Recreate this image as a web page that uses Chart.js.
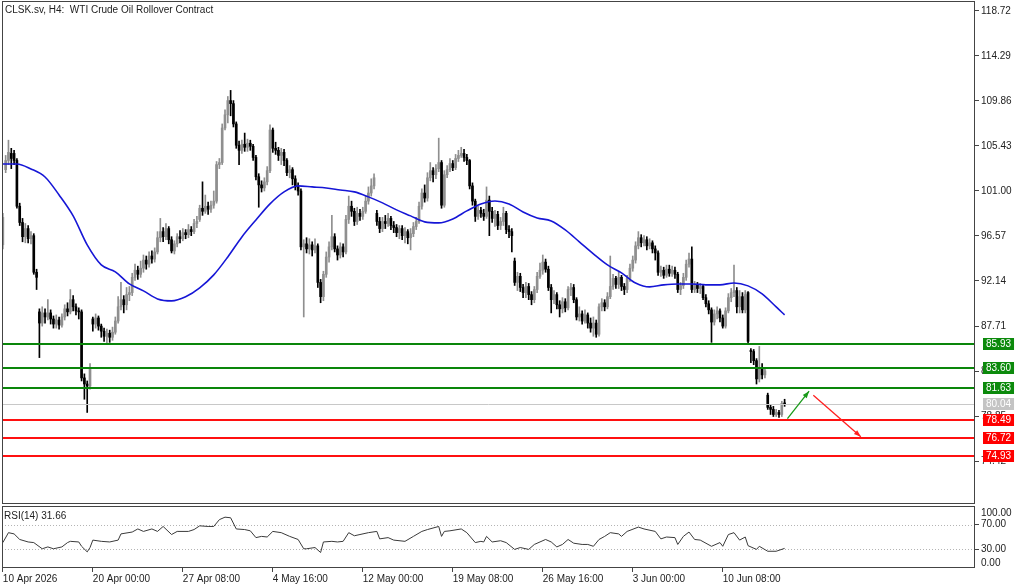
<!DOCTYPE html>
<html>
<head>
<meta charset="utf-8">
<script src="https://cdn.jsdelivr.net/npm/chart.js@4.4.1/dist/chart.umd.min.js"></script>
<style>
  html, body { margin: 0; padding: 0; background: #fff; }
  #wrap { position: relative; width: 1024px; height: 587px; overflow: hidden; }
  #mainBox { position: absolute; left: 0; top: 0; width: 1024px; height: 506px; }
  #rsiBox { position: absolute; left: 0; top: 505px; width: 1024px; height: 82px; }
</style>
</head>
<body>
<div id="wrap">
  <div id="mainBox"><canvas id="main"></canvas></div>
  <div id="rsiBox"><canvas id="rsi"></canvas></div>
</div>
<script>
// H4 candles, bar index 0 = 10 Apr 2026 16:00
const opens = [
  95.7,103.1,104.0,104.7,104.7,104.0,99.5,97.9,96.5,97.3,
  96.3,96.6,93.0,89.1,88.0,89.0,88.6,89.0,88.4,87.9,
  88.3,87.8,88.6,89.4,89.1,90.3,89.6,89.2,89.1,82.6,
  82.0,81.8,88.4,87.9,88.5,87.7,87.2,86.7,87.0,86.6,
  87.1,88.2,89.6,90.3,89.8,90.8,91.0,92.5,93.2,92.8,
  93.4,94.2,93.8,94.6,94.3,95.0,96.4,97.0,96.5,97.3,
  96.2,95.1,95.8,96.5,96.3,96.9,96.7,97.2,97.0,97.8,
  98.2,99.3,99.0,99.5,99.2,99.6,100.0,103.6,103.8,107.2,
  108.5,109.9,109.6,107.6,105.5,105.0,105.6,105.3,105.7,105.4,
  104.3,102.4,101.6,101.3,101.9,103.0,107.0,105.2,105.0,104.5,
  104.8,104.0,102.8,103.1,102.2,101.4,101.0,95.5,95.8,95.3,
  95.7,95.2,95.6,92.0,90.6,92.8,94.5,95.5,96.5,95.3,
  94.7,95.5,95.0,98.2,99.5,99.0,98.0,98.8,98.5,99.0,
  100.0,100.8,101.5,98.8,98.0,97.3,98.0,97.8,98.3,97.6,
  97.4,96.9,97.3,96.6,97.0,96.4,96.8,97.5,98.0,99.5,
  100.8,100.3,102.3,103.0,102.6,103.2,103.8,99.6,102.6,103.1,
  103.7,103.3,104.2,104.5,104.7,104.3,104.0,101.5,100.0,98.5,
  99.1,98.8,98.5,100.1,99.0,98.3,98.7,97.6,98.0,98.8,
  97.2,97.0,94.1,92.0,92.6,91.5,91.0,91.6,90.8,90.3,
  91.3,92.6,93.2,94.0,93.3,91.5,90.3,90.8,89.8,89.4,
  90.1,89.5,91.3,91.5,90.3,88.6,88.9,88.2,88.8,88.0,
  87.5,88.0,86.9,89.6,90.0,89.6,90.6,91.6,92.4,91.8,
  92.5,91.6,91.3,92.4,93.4,94.2,95.6,96.4,95.9,96.2,
  95.6,95.9,95.3,94.9,93.0,93.2,92.7,93.3,92.9,93.2,
  92.8,91.3,91.7,92.5,93.8,94.3,91.3,91.8,91.4,91.6,
  90.5,89.9,89.3,88.1,88.9,89.2,88.5,87.7,89.2,90.5,
  91.0,91.2,89.6,90.6,89.3,91.0,85.3,85.2,84.3,82.5,
  83.6,82.9,80.9,79.7,79.5,79.0,79.2,79.0,80.1
];
const closes = [
  98.4,104.0,104.8,104.2,104.0,99.5,97.9,96.5,97.3,96.3,
  96.6,93.0,92.5,88.0,89.0,88.6,89.0,88.4,87.9,88.3,
  87.8,88.6,89.4,89.1,90.3,89.6,89.2,89.1,82.6,82.0,
  81.8,83.6,87.9,88.5,87.7,87.2,86.7,87.0,86.6,87.1,
  88.2,89.6,90.3,89.8,90.8,91.0,92.5,93.2,92.8,93.4,
  94.2,93.8,94.6,94.3,95.0,96.4,97.0,96.5,97.3,96.2,
  95.1,95.8,96.5,96.3,96.9,96.7,97.2,97.0,97.8,98.0,
  99.3,99.0,99.5,99.2,99.6,100.0,103.6,103.8,107.2,108.5,
  109.9,109.6,107.6,105.5,105.0,105.6,105.3,105.7,105.4,104.3,
  102.4,101.6,101.3,101.9,103.0,107.0,105.2,105.0,104.5,104.8,
  104.0,102.8,103.1,102.2,101.4,101.0,95.5,95.8,95.3,95.7,
  95.2,95.6,92.0,90.6,92.8,94.5,95.5,96.5,95.3,94.7,
  95.5,95.0,98.2,99.5,99.0,98.0,98.8,98.5,99.0,100.0,
  100.8,101.5,102.3,98.0,97.3,98.0,97.8,98.3,97.6,97.4,
  96.9,97.3,96.6,97.0,96.4,96.8,97.5,98.0,99.5,100.8,
  100.3,102.3,103.0,102.6,103.2,103.8,99.6,102.6,103.1,103.7,
  103.3,104.2,104.5,104.7,104.3,104.0,101.5,100.0,98.5,99.1,
  98.8,98.5,100.1,99.0,98.3,98.7,97.6,98.0,98.8,97.2,
  97.0,96.6,92.0,92.6,91.5,91.0,91.6,90.8,90.3,91.3,
  92.6,93.2,94.0,93.3,91.5,90.3,90.8,89.8,89.4,90.1,
  89.5,91.3,91.5,90.3,88.6,88.9,88.2,88.8,88.0,87.5,
  88.0,86.9,89.6,90.0,89.6,90.6,91.6,92.4,91.8,92.5,
  91.6,91.3,92.4,93.4,94.2,95.6,96.4,95.9,96.2,95.6,
  95.9,95.3,94.9,93.0,93.2,92.7,93.3,92.9,93.2,92.8,
  91.3,91.7,92.5,93.8,94.3,91.3,91.8,91.4,91.6,90.5,
  89.9,89.3,88.1,88.9,89.2,88.5,87.7,89.2,90.5,91.0,
  91.2,89.6,90.6,89.3,90.8,86.2,85.2,84.3,82.5,83.6,
  82.9,83.3,79.7,79.5,79.0,79.2,79.0,80.1,80.04
];
const highs = [
  98.8,104.5,106.0,105.2,105.0,104.2,99.8,98.3,97.8,97.6,
  97.0,96.8,93.3,89.4,89.6,89.4,90.3,89.3,88.7,88.8,
  88.6,88.9,89.8,90.0,91.3,90.7,89.9,89.5,89.3,83.0,
  82.3,84.0,88.6,88.9,88.7,87.9,87.5,87.4,87.3,87.6,
  88.6,90.6,92.0,90.7,91.5,91.6,92.9,93.8,93.6,94.1,
  94.7,94.6,95.0,95.1,95.4,97.0,98.3,97.4,97.8,97.5,
  96.5,96.1,96.8,97.1,97.3,97.2,97.7,97.5,98.2,98.5,
  99.6,101.9,100.6,99.9,100.0,101.0,103.9,104.2,107.6,109.0,
  110.3,110.9,109.9,107.8,105.9,106.0,106.7,106.1,106.0,105.6,
  104.5,102.7,102.0,102.3,103.4,107.5,107.2,105.8,105.3,105.2,
  105.1,104.2,103.5,103.3,102.5,101.8,101.2,96.2,96.4,96.3,
  96.0,96.3,95.8,92.3,93.1,95.0,96.0,98.6,96.8,95.6,
  95.9,95.8,98.6,100.5,100.0,99.3,99.4,99.2,99.4,100.5,
  101.4,102.2,102.7,99.1,98.4,98.4,98.6,98.8,98.5,98.0,
  97.7,97.6,97.6,97.4,97.2,97.3,97.9,98.4,99.9,101.2,
  101.6,102.8,103.8,103.3,103.6,106.2,104.0,103.0,103.5,104.2,
  104.0,104.6,105.0,105.3,105.1,104.6,104.1,101.8,100.2,99.5,
  99.4,99.2,101.4,100.5,99.4,99.1,99.0,98.4,99.4,99.0,
  97.6,97.3,94.4,93.0,92.9,91.8,92.0,91.9,91.1,91.6,
  93.0,93.9,94.7,94.3,93.6,91.8,91.2,91.0,90.2,90.5,
  90.4,91.6,91.9,91.8,90.5,89.6,89.2,89.3,89.0,88.5,
  88.6,88.3,89.9,90.4,90.3,91.0,94.6,92.8,92.6,93.0,
  92.7,91.9,92.7,93.8,94.6,96.0,97.0,96.7,96.6,96.5,
  96.3,96.1,95.6,95.1,93.6,93.5,93.7,93.7,93.6,93.5,
  93.0,92.0,92.9,94.2,94.9,95.5,92.1,92.0,91.9,91.8,
  90.8,90.2,89.5,89.3,89.6,89.4,88.8,89.5,90.9,91.4,
  93.7,91.5,91.2,91.0,91.2,91.1,85.5,85.4,84.5,85.7,
  84.0,83.5,81.1,80.0,79.8,79.5,79.4,80.3,80.5
];
const lows = [
  95.3,102.8,103.6,103.2,103.6,99.3,97.6,96.0,95.9,95.9,
  95.8,92.8,91.3,84.6,87.7,88.0,88.3,87.9,87.5,87.5,
  87.4,87.6,88.3,88.7,88.9,89.2,88.8,88.4,82.3,80.5,
  79.2,81.5,87.2,87.5,87.3,86.6,86.2,86.0,86.1,86.3,
  86.9,88.0,89.3,89.0,89.3,90.2,90.7,92.2,92.3,92.5,
  93.0,93.3,93.5,93.9,94.0,94.8,96.0,96.0,96.2,95.8,
  94.9,94.8,95.5,95.9,96.1,96.3,96.4,96.6,96.8,97.4,
  98.0,98.6,98.8,98.7,98.9,99.3,99.8,103.2,103.6,107.0,
  107.7,108.4,107.3,105.2,103.6,104.7,104.9,104.9,105.0,104.0,
  102.1,99.4,100.9,101.0,101.6,102.8,104.8,104.6,104.0,103.6,
  103.5,102.5,102.3,101.6,101.1,100.6,95.2,88.6,94.9,94.8,
  94.6,94.9,91.5,90.0,90.2,92.5,94.0,95.2,95.0,94.2,
  94.4,94.5,94.8,97.8,98.5,97.6,97.7,98.1,98.2,98.8,
  99.7,100.5,101.2,97.6,96.9,97.0,97.3,97.5,97.2,96.9,
  96.5,96.3,96.2,95.9,95.8,95.2,96.5,97.2,97.8,99.2,
  99.9,100.0,102.0,101.9,102.2,102.9,99.3,99.4,102.3,102.9,
  103.0,103.1,103.9,104.3,103.9,103.6,101.2,99.6,98.0,98.2,
  98.4,98.1,98.3,96.6,97.9,97.5,97.2,97.2,97.6,96.8,
  96.4,95.0,91.7,91.2,91.1,90.5,90.5,90.3,89.8,90.0,
  91.0,92.4,92.8,93.0,91.2,89.0,89.9,89.4,88.6,89.0,
  89.1,89.3,90.7,90.0,88.3,88.2,87.9,88.0,87.5,87.1,
  86.7,86.6,86.7,89.2,89.2,89.4,90.4,91.3,91.4,91.4,
  91.2,90.8,91.0,92.1,93.1,93.9,95.3,95.5,95.6,95.2,
  95.3,94.9,94.2,92.7,92.6,92.4,92.5,92.6,92.6,92.4,
  91.0,90.8,91.4,92.2,93.5,91.0,91.0,91.0,90.9,90.3,
  89.6,88.9,86.1,87.8,88.4,88.1,87.5,87.5,89.0,90.1,
  90.6,89.0,89.0,89.0,89.0,86.0,84.1,83.9,82.0,82.2,
  82.5,82.6,79.5,79.0,78.8,78.8,78.7,78.8,79.8
];

// moving average at these bar indices
const maIdx = [0,5,10,15,20,25,30,35,40,45,50,55,60,65,70,75,80,85,90,95,
  100,105,110,115,120,125,130,135,140,145,150,155,160,165,170,175,180,185,190,195,
  200,205,210,215,220,225,230,235,240,245,250,255,260,265,270,275,278];
const maVal = [103.66,103.66,103.17,102.38,100.61,98.55,95.69,93.72,93.04,91.85,
  91.17,90.38,90.18,90.58,91.46,92.74,94.51,96.48,98.15,99.73,
  100.91,101.50,101.40,101.30,101.10,100.91,100.42,99.83,99.14,98.55,
  97.96,97.86,98.25,99.04,99.73,100.02,99.73,98.94,98.35,98.05,
  97.17,95.99,94.81,93.72,92.94,91.95,91.56,91.76,91.85,91.85,
  91.76,91.76,91.95,91.66,90.87,89.59,88.80];

// RSI(14)
const rsiIdx = [0,2,4,6,9,11,14,16,18,21,23,24,27,28,30,31,32,35,38,41,
  42,46,48,50,53,55,57,60,62,66,68,70,73,75,77,79,81,83,86,88,
  90,92,94,96,99,102,105,107,108,111,113,114,117,119,121,123,125,127,130,133,
  134,137,139,143,146,149,151,155,156,157,159,163,165,168,170,171,172,174,177,179,
  182,184,187,189,193,195,197,199,201,203,206,208,210,212,214,216,219,220,222,226,
  228,232,234,236,239,240,242,244,246,248,252,255,256,258,260,262,264,265,268,269,
  272,275,278];
const rsiVal = [41,57,55,46,42,41,31,34,31,34,41,43,42,35,26,33,45,43,42,45,
  55,58,63,59,63,59,67,54,59,59,62,68,67,67,78,82,81,63,62,60,
  49,51,50,59,57,51,46,31,31,33,25,42,43,42,43,57,52,54,57,59,
  47,49,45,43,51,59,62,67,51,59,60,63,57,41,43,42,51,42,44,41,
  30,33,30,38,46,42,34,38,46,40,38,38,35,46,51,57,55,51,59,66,
  63,59,47,50,49,38,51,58,46,45,35,41,35,54,57,45,50,36,30,35,
  27,27,31.66];

const priceTicks = [118.72,114.29,109.86,105.43,101.00,96.57,92.14,87.71,83.28,78.85,74.42];
const timeIdx = [0,32,64,96,128,160,192,224,256];
const timeLabels = ['10 Apr 2026','20 Apr 00:00','27 Apr 08:00','4 May 16:00','12 May 00:00',
  '19 May 08:00','26 May 16:00','3 Jun 00:00','10 Jun 08:00'];
const resistance = [85.93, 83.60, 81.63];
const support = [78.49, 76.72, 74.93];
const rsiLevels = [70, 30];
// hand drawn arrows: [bar index, price] start and end
const arrowUp = [[279.0, 78.6], [286.7, 81.3]];
const arrowDown = [[288.2, 80.9], [305.1, 76.8]];

const BULL = '#8f8f8f', BEAR = '#000000';
const GREEN = '#0a860a', RED = '#ff1010';
const FONT = '"Liberation Sans", Arial, sans-serif';
const XMIN = -0.3, XMAX = 345.7;
const bid = closes[closes.length - 1];

Chart.defaults.font.family = FONT;
Chart.defaults.font.size = 10;
Chart.defaults.color = '#222';

// keep the plot frame flush with the canvas edges (no room reserved for edge labels)
const noEdgePadding = s => {
  s.paddingTop = 0; s.paddingBottom = 0; s.paddingLeft = 0; s.paddingRight = 0;
};

const frame = {
  id: 'frame',
  afterDraw(chart) {
    const {ctx, chartArea: a} = chart;
    ctx.save();
    ctx.strokeStyle = '#444';
    ctx.lineWidth = 1;
    ctx.strokeRect(a.left + 0.5, a.top + 0.5, a.right - a.left - 1, a.bottom - a.top - 1);
    ctx.restore();
  }
};

function drawArrow(ctx, x1, y1, x2, y2, color) {
  ctx.strokeStyle = color;
  ctx.fillStyle = color;
  ctx.lineWidth = 1.3;
  ctx.beginPath();
  ctx.moveTo(x1, y1);
  ctx.lineTo(x2, y2);
  ctx.stroke();
  const ang = Math.atan2(y2 - y1, x2 - x1), L = 7, W = 2.5;
  const bx = x2 - L * Math.cos(ang), by = y2 - L * Math.sin(ang);
  ctx.beginPath();
  ctx.moveTo(x2, y2);
  ctx.lineTo(bx + W * Math.sin(ang), by - W * Math.cos(ang));
  ctx.lineTo(bx - W * Math.sin(ang), by + W * Math.cos(ang));
  ctx.closePath();
  ctx.fill();
}

const mainOverlay = {
  id: 'mainOverlay',
  afterDatasetsDraw(chart) {
    const {ctx, chartArea: a, scales: {x, y}} = chart;
    ctx.save();
    ctx.beginPath();
    ctx.rect(a.left, a.top, a.right - a.left, a.bottom - a.top);
    ctx.clip();
    const hline = (v, color, w) => {
      const py = Math.round(y.getPixelForValue(v)) + (w % 2 ? 0.5 : 0);
      ctx.strokeStyle = color;
      ctx.lineWidth = w;
      ctx.beginPath();
      ctx.moveTo(a.left, py);
      ctx.lineTo(a.right, py);
      ctx.stroke();
    };
    hline(bid, '#c8c8c8', 1);
    resistance.forEach(v => hline(v, GREEN, 2));
    support.forEach(v => hline(v, RED, 2));
    const px = p => [x.getPixelForValue(p[0]), y.getPixelForValue(p[1])];
    let s = px(arrowUp[0]), e = px(arrowUp[1]);
    drawArrow(ctx, s[0], s[1], e[0], e[1], '#1a9a1a');
    s = px(arrowDown[0]); e = px(arrowDown[1]);
    drawArrow(ctx, s[0], s[1], e[0], e[1], '#ff2020');
    ctx.restore();
  },
  afterDraw(chart) {
    const {ctx, chartArea: a, scales: {y}} = chart;
    ctx.save();
    ctx.font = '10px ' + FONT;
    ctx.fillStyle = '#222';
    ctx.textBaseline = 'middle';
    ctx.textAlign = 'left';
    ctx.fillText('CLSK.sv, H4:  WTI Crude Oil Rollover Contract', a.left + 3, a.top + 9);
    const box = (v, fill) => {
      const t = v.toFixed(2);
      const w = ctx.measureText(t).width + 6;
      const py = Math.round(y.getPixelForValue(v));
      ctx.fillStyle = fill;
      ctx.fillRect(a.right + 8, py - 6, w, 12);
      ctx.fillStyle = '#fff';
      ctx.fillText(t, a.right + 11, py + 0.5);
    };
    resistance.forEach(v => box(v, '#0c8a0c'));
    box(bid, '#c4c4c4');
    support.forEach(v => box(v, '#ff0000'));
    ctx.restore();
  }
};

const rsiOverlay = {
  id: 'rsiOverlay',
  beforeDatasetsDraw(chart) {
    const {ctx, chartArea: a, scales: {y}} = chart;
    ctx.save();
    ctx.strokeStyle = '#b4b4b4';
    ctx.lineWidth = 1;
    ctx.setLineDash([1, 2]);
    rsiLevels.forEach(v => {
      const py = Math.round(y.getPixelForValue(v)) + 0.5;
      ctx.beginPath();
      ctx.moveTo(a.left, py);
      ctx.lineTo(a.right, py);
      ctx.stroke();
    });
    ctx.restore();
  },
  afterDraw(chart) {
    const {ctx, chartArea: a, scales: {y}} = chart;
    ctx.save();
    ctx.font = '10px ' + FONT;
    ctx.fillStyle = '#222';
    ctx.textBaseline = 'middle';
    ctx.textAlign = 'left';
    ctx.fillText('RSI(14) ' + rsiVal[rsiVal.length - 1].toFixed(2), a.left + 2, a.top + 10);
    [100, 0].forEach(v => {
      const py = Math.min(Math.max(y.getPixelForValue(v), a.top + 7), a.bottom - 5);
      ctx.fillText(v.toFixed(2), a.right + 6, py);
    });
    ctx.restore();
  }
};

const candleColor = i => closes[i] >= opens[i] ? BULL : BEAR;

new Chart(document.getElementById('main'), {
  type: 'bar',
  data: {
    datasets: [
      {
        label: 'MA',
        type: 'line',
        data: maIdx.map((b, k) => ({x: b, y: maVal[k]})),
        borderColor: '#1616d6',
        borderWidth: 1.6,
        pointRadius: 0,
        tension: 0.4,
        cubicInterpolationMode: 'monotone',
        order: 0
      },
      {
        label: 'body',
        data: opens.map((o, i) => ({x: i, y: [o, closes[i]]})),
        backgroundColor: ctx => candleColor(ctx.dataIndex),
        barThickness: 2,
        minBarLength: 1,
        grouped: false,
        order: 1
      },
      {
        label: 'wick',
        data: lows.map((l, i) => ({x: i, y: [l, highs[i]]})),
        backgroundColor: ctx => candleColor(ctx.dataIndex),
        barThickness: 1,
        grouped: false,
        order: 2
      }
    ]
  },
  options: {
    responsive: true,
    maintainAspectRatio: false,
    animation: false,
    layout: {padding: {left: 2, top: 1, right: 0, bottom: 2}},
    plugins: {legend: {display: false}, tooltip: {enabled: false}},
    scales: {
      x: {type: 'linear', min: XMIN, max: XMAX, offset: false, display: false},
      y: {
        position: 'right',
        min: 70.19,
        max: 119.70,
        afterFit: s => { s.width = 49; noEdgePadding(s); },
        afterBuildTicks: s => { s.ticks = priceTicks.map(v => ({value: v})); },
        ticks: {autoSkip: false, padding: 2, color: '#222', callback: v => v.toFixed(2)},
        grid: {drawOnChartArea: false, tickLength: 4, color: '#444'},
        border: {display: false}
      }
    }
  },
  plugins: [mainOverlay, frame]
});

new Chart(document.getElementById('rsi'), {
  type: 'line',
  data: {
    datasets: [{
      label: 'RSI(14)',
      data: rsiIdx.map((b, k) => ({x: b, y: rsiVal[k]})),
      borderColor: '#3a3a3a',
      borderWidth: 1,
      pointRadius: 0,
      tension: 0
    }]
  },
  options: {
    responsive: true,
    maintainAspectRatio: false,
    animation: false,
    layout: {padding: {left: 2, top: 1, right: 0, bottom: 0}},
    plugins: {legend: {display: false}, tooltip: {enabled: false}},
    scales: {
      x: {
        type: 'linear',
        min: XMIN,
        max: XMAX,
        offset: false,
        afterFit: s => { s.height = 19; noEdgePadding(s); },
        afterBuildTicks: s => { s.ticks = timeIdx.map(v => ({value: v})); },
        ticks: {autoSkip: false, maxRotation: 0, align: 'start', padding: 1, color: '#222',
          callback: (v, i) => timeLabels[i]},
        grid: {drawOnChartArea: false, tickLength: 4, color: '#444'},
        border: {display: false}
      },
      y: {
        position: 'right',
        min: 0,
        max: 100,
        afterFit: s => { s.width = 49; noEdgePadding(s); },
        afterBuildTicks: s => { s.ticks = rsiLevels.map(v => ({value: v})); },
        ticks: {autoSkip: false, padding: 2, color: '#222', callback: v => v.toFixed(2)},
        grid: {drawOnChartArea: false, tickLength: 4, color: '#444'},
        border: {display: false}
      }
    }
  },
  plugins: [rsiOverlay, frame]
});
</script>
</body>
</html>
